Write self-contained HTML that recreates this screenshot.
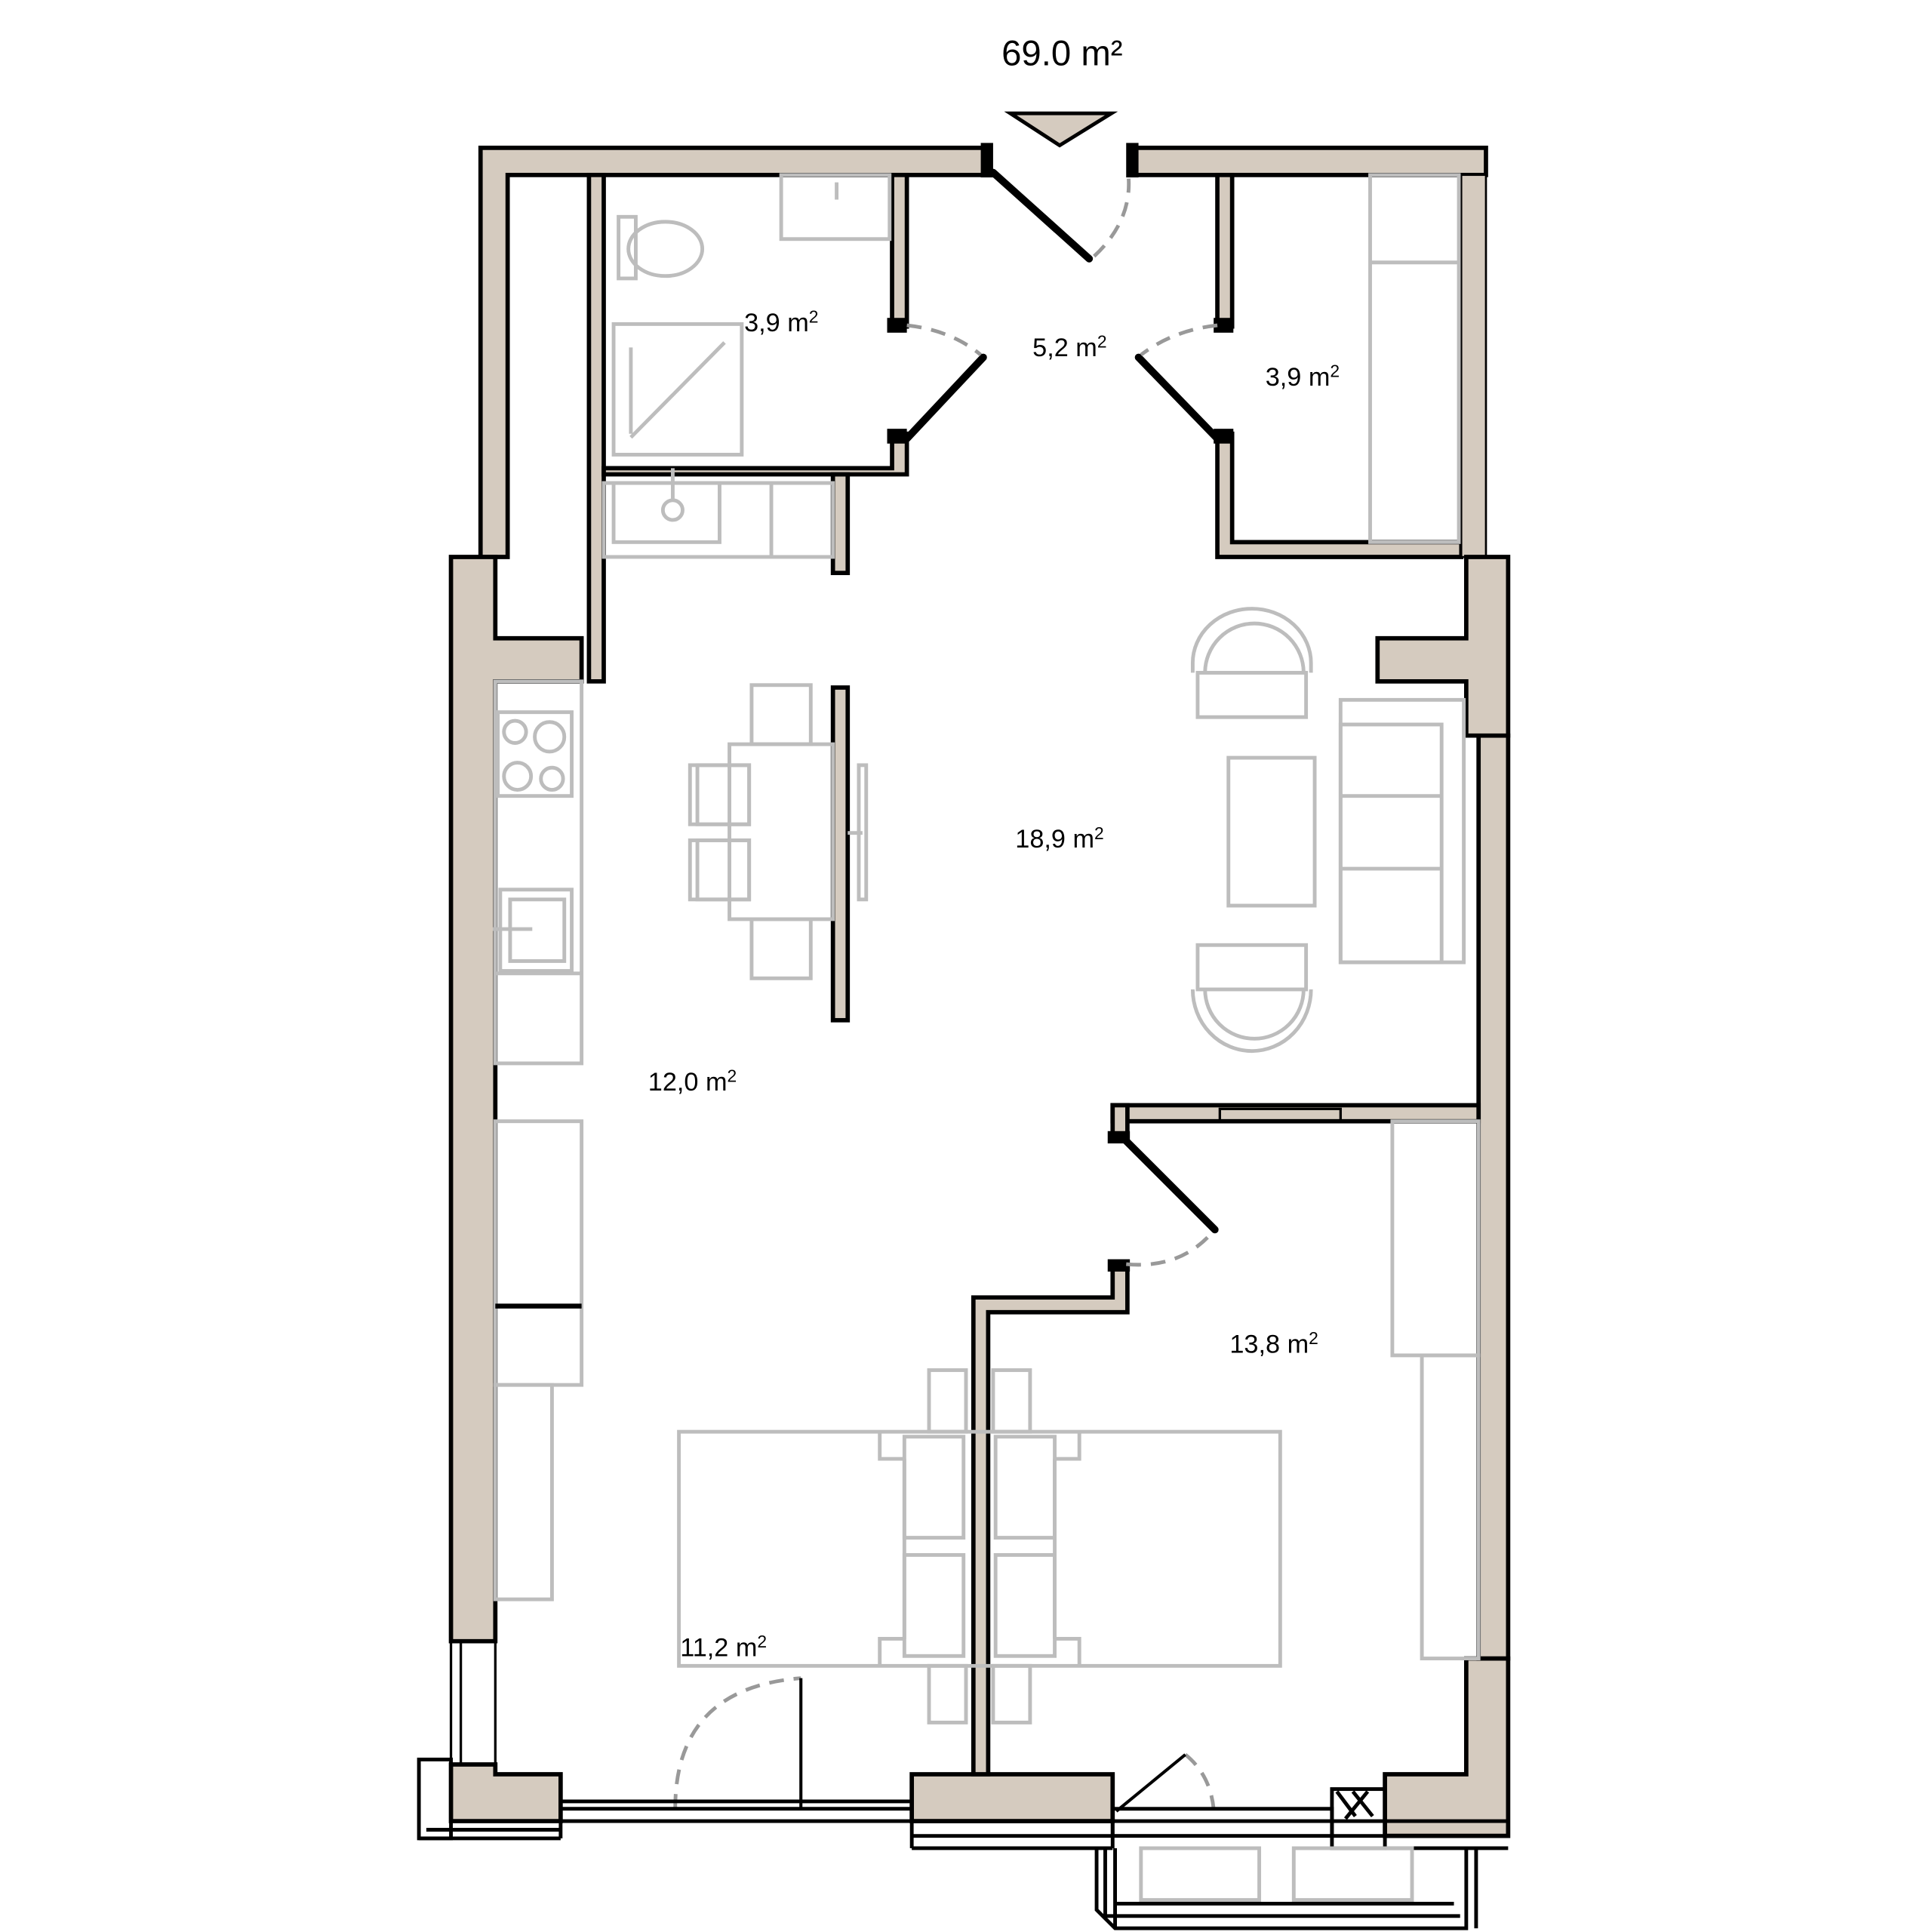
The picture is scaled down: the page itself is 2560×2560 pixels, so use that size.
<!DOCTYPE html>
<html><head><meta charset="utf-8"><style>html,body{margin:0;padding:0;background:#fff}svg{display:block}</style></head>
<body>
<svg width="2560" height="2560" viewBox="0 0 1568 1568" xmlns="http://www.w3.org/2000/svg">
<rect width="1568" height="1568" fill="#fff"/>
<g fill="#d5cbbf" stroke="#000" stroke-width="3.5" stroke-linejoin="miter">
 <polygon points="390,120 800,120 800,142 412,142 412,452 390,452"/>
 <rect x="478" y="142" width="12" height="411"/>
 <polygon points="920,120 1206,120 1206,142 920,142"/>
 <rect x="724" y="142" width="12" height="123"/>
 <polygon points="724,352 736,352 736,385 490,385 490,380 724,380"/>
 <rect x="676" y="385" width="12" height="80"/>
 <rect x="988" y="142" width="12" height="123"/>
 <polygon points="988,352 1000,352 1000,440 1186,440 1186,452 988,452"/>
 <rect x="1186" y="142" width="20" height="310" stroke-width="1.5"/>
 <polygon points="366,452 402,452 402,518 472,518 472,553 402,553 402,1332 366,1332"/>
 <polygon points="366,1432 402,1432 402,1440 455,1440 455,1478 366,1478"/>
 <rect x="740" y="1440" width="163" height="38"/>
 <polygon points="1124,1440 1190,1440 1190,1346 1224,1346 1224,1490 1124,1490"/>
 <rect x="1200" y="597" width="24" height="749"/>
 <polygon points="1190,452 1224,452 1224,597 1190,597 1190,553 1118,553 1118,518 1190,518"/>
 <rect x="903" y="897" width="297" height="13"/>
 <rect x="903" y="897" width="12" height="28"/>
 <polygon points="903,1025 915,1025 915,1065 802,1065 802,1440 790,1440 790,1053 903,1053"/>
 <rect x="676" y="558" width="12" height="270"/>
 <polygon points="820,92 902,92 860,118" stroke-width="3"/>
</g>
<g fill="#000">
 <rect x="796" y="116" width="10" height="28"/><rect x="914" y="116" width="10" height="28"/>
 <rect x="720" y="258" width="16" height="12"/><rect x="720" y="348" width="16" height="12"/>
 <rect x="985" y="258" width="16" height="12"/><rect x="985" y="348" width="16" height="12"/>
 <rect x="899" y="918" width="18" height="10"/><rect x="899" y="1022" width="18" height="10"/>
</g>
<g stroke="#000" stroke-width="6" stroke-linecap="round">
 <line x1="806" y1="140" x2="884" y2="210"/>
 <line x1="736" y1="356" x2="798" y2="290"/>
 <line x1="988" y1="356" x2="924" y2="290"/>
 <line x1="912" y1="924" x2="986" y2="998"/>
</g>
<g fill="none" stroke="#999" stroke-width="3" stroke-dasharray="12,8">
 <path d="M888,208 Q918,180 916,145"/>
 <path d="M736,264 Q772,268 796,288"/>
 <path d="M988,264 Q952,268 926,288"/>
 <path d="M914,1026 Q958,1030 984,1000"/>
 <path d="M548,1468 Q548,1370 650,1362"/>
 <path d="M962,1424 Q982,1440 985,1468"/>
</g>
<line x1="650" y1="1362" x2="650" y2="1468" stroke="#000" stroke-width="2.5"/>
<g fill="none" stroke="#000" stroke-width="3">
 <rect x="455" y="1462" width="285" height="16"/>
 <line x1="455" y1="1468" x2="740" y2="1468"/>
 <rect x="340" y="1428" width="26" height="64"/>
 <line x1="340" y1="1492" x2="455" y2="1492"/>
 <line x1="346" y1="1485" x2="455" y2="1485"/>
 <line x1="455" y1="1478" x2="455" y2="1492"/>
 <rect x="366" y="1332" width="36" height="100" stroke-width="2"/>
 <line x1="374" y1="1332" x2="374" y2="1432" stroke-width="2"/>
 <line x1="740" y1="1478" x2="740" y2="1500"/>
 <line x1="740" y1="1500" x2="903" y2="1500"/>
 <line x1="740" y1="1490" x2="903" y2="1490"/>
 <line x1="903" y1="1440" x2="903" y2="1500"/>
 <rect x="903" y="1468" width="178" height="22"/>
 <line x1="903" y1="1478" x2="1081" y2="1478"/>
 <rect x="1081" y="1452" width="43" height="48"/>
 <line x1="1081" y1="1478" x2="1224" y2="1478"/>
 <line x1="1081" y1="1490" x2="1224" y2="1490"/>
 <line x1="1124" y1="1500" x2="1224" y2="1500"/>
 <path d="M1085,1454 L1100,1474 M1098,1454 L1114,1474 M1110,1454 L1092,1476"/>
 <path d="M906,1470 L962,1424" stroke-width="2.5"/>
 <path d="M890,1500 L890,1550 L905,1565 L1190,1565 L1190,1500"/>
 <line x1="897" y1="1500" x2="897" y2="1555"/>
 <line x1="905" y1="1500" x2="905" y2="1565"/>
 <line x1="897" y1="1555" x2="1185" y2="1555"/>
 <line x1="905" y1="1545" x2="1180" y2="1545"/>
 <line x1="1198" y1="1500" x2="1198" y2="1565"/>
 <rect x="990" y="900" width="98" height="10" stroke-width="2"/>
 <line x1="1206" y1="142" x2="1206" y2="452" stroke-width="1.5"/>
 <line x1="1200" y1="452" x2="1224" y2="452"/>
</g>
<g fill="none" stroke="#bdbdbd" stroke-width="3">
 <rect x="634" y="142" width="88" height="52"/><line x1="679" y1="148" x2="679" y2="162"/>
 <path d="M502,176 h14 v50 h-14 z"/><ellipse cx="540" cy="202" rx="30" ry="22"/>
 <rect x="498" y="263" width="104" height="106"/><line x1="512" y1="355" x2="588" y2="278"/><line x1="512" y1="282" x2="512" y2="352"/>
 <rect x="490" y="392" width="186" height="60"/><rect x="498" y="392" width="86" height="48"/><circle cx="546" cy="414" r="8"/><line x1="546" y1="380" x2="546" y2="406"/><line x1="626" y1="392" x2="626" y2="452"/>
 <path d="M968,546 v-8 a48,44 0 0 1 96,0 v8"/><path d="M978,546 a40,40 0 0 1 80,0"/><rect x="972" y="546" width="88" height="36"/>
 <rect x="997" y="615" width="70" height="120"/>
 <rect x="1088" y="568" width="100" height="213"/><rect x="1088" y="588" width="82" height="193"/><line x1="1088" y1="646" x2="1170" y2="646"/><line x1="1088" y1="705" x2="1170" y2="705"/>
 <rect x="972" y="767" width="88" height="36"/><path d="M968,803 a48,50 0 0 0 96,0"/><path d="M978,803 a40,40 0 0 0 80,0"/>
 <rect x="592" y="604" width="84" height="142"/><rect x="610" y="556" width="48" height="48"/><rect x="610" y="746" width="48" height="48"/>
 <rect x="560" y="621" width="48" height="48"/><rect x="560" y="682" width="48" height="48"/>
 <rect x="566" y="621" width="42" height="48"/><rect x="566" y="682" width="42" height="48"/>
 <rect x="697" y="621" width="6" height="109"/><line x1="688" y1="676" x2="700" y2="676"/>
 <rect x="404" y="578" width="60" height="68"/><circle cx="418" cy="594" r="9"/><circle cx="446" cy="598" r="12"/><circle cx="420" cy="630" r="11"/><circle cx="448" cy="632" r="9"/>
 <rect x="402" y="553" width="70" height="310"/>
 <rect x="406" y="722" width="58" height="66"/><rect x="414" y="730" width="44" height="50"/><line x1="400" y1="754" x2="432" y2="754"/>
 <line x1="402" y1="790" x2="472" y2="790"/>
 <rect x="402" y="910" width="70" height="214"/>
 <rect x="402" y="1124" width="46" height="174"/>
 <rect x="551" y="1162" width="488" height="190"/>
 <rect x="734" y="1166" width="48" height="82"/><rect x="734" y="1262" width="48" height="82"/>
 <rect x="808" y="1166" width="48" height="82"/><rect x="808" y="1262" width="48" height="82"/>
 <rect x="754" y="1112" width="30" height="50"/><rect x="806" y="1112" width="30" height="50"/>
 <rect x="754" y="1352" width="30" height="46"/><rect x="806" y="1352" width="30" height="46"/>
 <path d="M714,1162 v22 h20 M714,1352 v-22 h20 M876,1162 v22 h-20 M876,1352 v-22 h-20"/>
 <line x1="734" y1="1184" x2="734" y2="1330"/><line x1="856" y1="1184" x2="856" y2="1330"/>
 <rect x="1130" y="910" width="70" height="190"/><rect x="1154" y="1100" width="46" height="246"/>
 <rect x="1112" y="142" width="72" height="298"/><line x1="1112" y1="213" x2="1184" y2="213"/>
 <rect x="926" y="1500" width="96" height="42"/><rect x="1050" y="1500" width="96" height="42"/>
</g>
<line x1="402" y1="1060" x2="472" y2="1060" stroke="#000" stroke-width="4"/>
<g font-family="Liberation Sans, sans-serif" fill="#000">
 <text x="862" y="53" font-size="29" text-anchor="middle">69.0 m²</text>
 <g font-size="21">
  <text x="604" y="269">3,9 m<tspan font-size="14" dy="-7">2</tspan></text>
  <text x="838" y="289">5,2 m<tspan font-size="14" dy="-7">2</tspan></text>
  <text x="1027" y="313">3,9 m<tspan font-size="14" dy="-7">2</tspan></text>
  <text x="824" y="688">18,9 m<tspan font-size="14" dy="-7">2</tspan></text>
  <text x="526" y="885">12,0 m<tspan font-size="14" dy="-7">2</tspan></text>
  <text x="998" y="1098">13,8 m<tspan font-size="14" dy="-7">2</tspan></text>
  <text x="552" y="1344">11,2 m<tspan font-size="14" dy="-7">2</tspan></text>
 </g>
</g>
</svg>
</body></html>
